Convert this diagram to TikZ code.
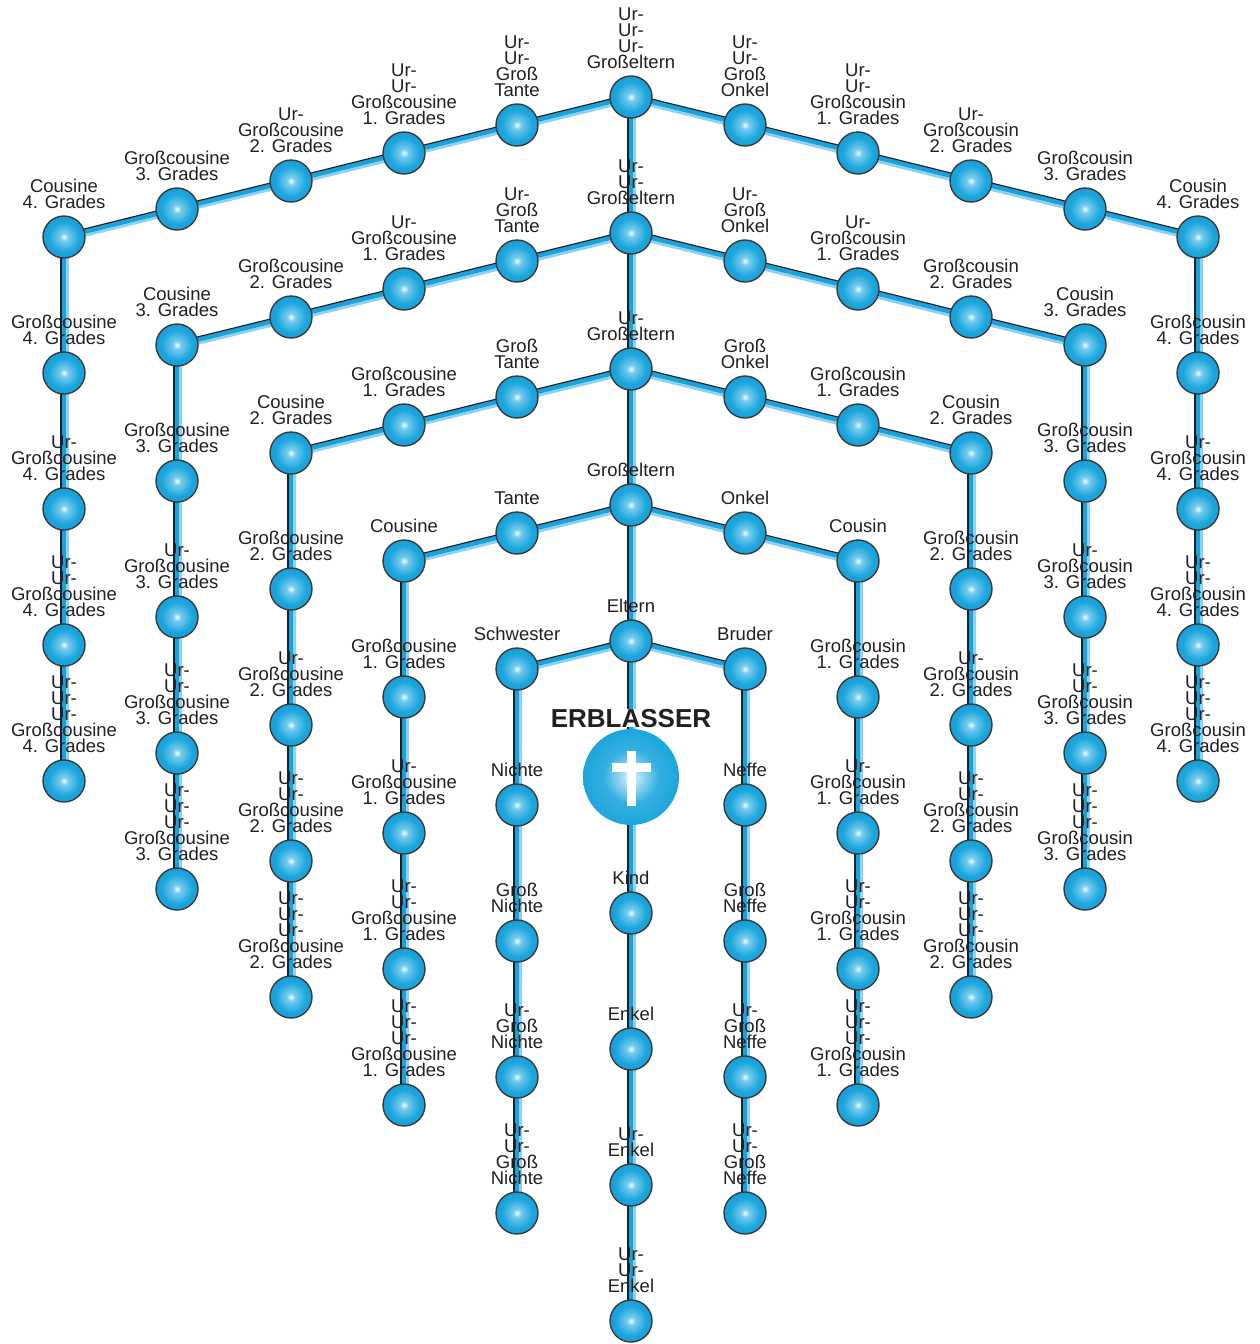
\documentclass[tikz,border=0pt]{standalone}
\usepackage{fontspec}
\setmainfont{Liberation Sans}
\usetikzlibrary{backgrounds}
\definecolor{txt}{HTML}{231F20}
\definecolor{lnblue}{HTML}{1AA3DB}
\definecolor{lnlight}{HTML}{8ED2EF}
\definecolor{lndark}{HTML}{231F20}
\definecolor{sphline}{HTML}{3A3A3C}
\definecolor{sphA}{HTML}{F4FBFE}
\definecolor{sphB}{HTML}{74CBEE}
\definecolor{sphC}{HTML}{1CA6DD}
\definecolor{sphD}{HTML}{0C8CC4}
\definecolor{glA}{HTML}{E0F4FC}
\definecolor{glB}{HTML}{33B0E1}
\definecolor{glC}{HTML}{12A0DA}
\definecolor{glD}{HTML}{9CD8F2}
\pgfdeclareradialshading{sphere}{\pgfpoint{0bp}{0bp}}{color(0bp)=(sphA); color(5bp)=(sphB); color(18bp)=(sphC); color(46bp)=(sphD); color(50bp)=(sphD)}
\pgfdeclareradialshading{glow}{\pgfpoint{0bp}{0bp}}{color(0bp)=(glA); color(14bp)=(glB); color(30bp)=(glC); color(37bp)=(sphC); color(44bp)=(glD); color(50bp)=(white)}
\tikzset{
  sph/.style={circle, minimum size=42pt, inner sep=0pt, draw=sphline, line width=1.4pt, shading=sphere},
  glownode/.style={circle, minimum size=96pt, inner sep=0pt, shading=glow},
  lbl/.style={anchor=south, inner sep=0pt, align=center, text=txt, font=\fontsize{18.5}{16}\selectfont},
  erbl/.style={anchor=base, inner sep=0pt, fill=white, text=txt, font=\fontsize{26}{30}\selectfont\bfseries},
  lnL/.style={draw=lnlight, line width=3pt},
  lnB/.style={draw=lnblue, line width=4.5pt},
  lnD/.style={draw=lndark, line width=1.2pt},
}
\newcommand\pers[4]{\node[sph] (#1) at (#2,#3) {}; \node[lbl] (#1t) at ([yshift=28pt]#1.center) {#4};}
\newcommand\vlink[2]{%
  \draw[lnL] ([xshift=3.5pt]#1.center) -- ([xshift=3.5pt]#2.center);
  \draw[lnB] ([xshift=-0.25pt]#1.center) -- ([xshift=-0.25pt]#2.center);
  \draw[lnD] ([xshift=-3pt]#1.center) -- ([xshift=-3pt]#2.center);}
\newcommand\hlink[2]{%
  \draw[lnL] ([yshift=-3.5pt]#1.center) -- ([yshift=-3.5pt]#2.center);
  \draw[lnB] ([yshift=0.25pt]#1.center) -- ([yshift=0.25pt]#2.center);
  \draw[lnD] ([yshift=3pt]#1.center) -- ([yshift=3pt]#2.center);}
\begin{document}
\begin{tikzpicture}[x=1pt,y=-1pt]
\useasboundingbox (0,0) rectangle (1259,1344);
% centre column
\pers{gg3}{631}{97}{Ur-\\Ur-\\Ur-\\Großeltern}
\pers{gg2}{631}{233}{Ur-\\Ur-\\Großeltern}
\pers{gg1}{631}{369}{Ur-\\Großeltern}
\pers{gp}{631}{505}{Großeltern}
\pers{par}{631}{641}{Eltern}
\node[glownode] (erb) at (631,777) {};
\node[erbl] (erbt) at (631,727) {ERBLASSER};
\fill[white] ([shift={(-4.2,-26)}]erb.center) rectangle ([shift={(4.6,29)}]erb.center);
\fill[white] ([shift={(-19.5,-14.5)}]erb.center) rectangle ([shift={(20,-5.5)}]erb.center);
\pers{kid}{631}{913}{Kind}
\pers{enk}{631}{1049}{Enkel}
\pers{uenk}{631}{1185}{Ur-\\Enkel}
\pers{uuenk}{631}{1321}{Ur-\\Ur-\\Enkel}
% left row 0
\pers{L01}{517}{125}{Ur-\\Ur-\\Groß\\Tante}
\pers{L02}{404}{153}{Ur-\\Ur-\\Großcousine\\1. Grades}
\pers{L03}{291}{181}{Ur-\\Großcousine\\2. Grades}
\pers{L04}{177}{209}{Großcousine\\3. Grades}
\pers{L05}{64}{237}{Cousine\\4. Grades}
\pers{L06}{64}{373}{Großcousine\\4. Grades}
\pers{L07}{64}{509}{Ur-\\Großcousine\\4. Grades}
\pers{L08}{64}{645}{Ur-\\Ur-\\Großcousine\\4. Grades}
\pers{L09}{64}{781}{Ur-\\Ur-\\Ur-\\Großcousine\\4. Grades}
% left row 1
\pers{L11}{517}{261}{Ur-\\Groß\\Tante}
\pers{L12}{404}{289}{Ur-\\Großcousine\\1. Grades}
\pers{L13}{291}{317}{Großcousine\\2. Grades}
\pers{L14}{177}{345}{Cousine\\3. Grades}
\pers{L15}{177}{481}{Großcousine\\3. Grades}
\pers{L16}{177}{617}{Ur-\\Großcousine\\3. Grades}
\pers{L17}{177}{753}{Ur-\\Ur-\\Großcousine\\3. Grades}
\pers{L18}{177}{889}{Ur-\\Ur-\\Ur-\\Großcousine\\3. Grades}
% left row 2
\pers{L21}{517}{397}{Groß\\Tante}
\pers{L22}{404}{425}{Großcousine\\1. Grades}
\pers{L23}{291}{453}{Cousine\\2. Grades}
\pers{L24}{291}{589}{Großcousine\\2. Grades}
\pers{L25}{291}{725}{Ur-\\Großcousine\\2. Grades}
\pers{L26}{291}{861}{Ur-\\Ur-\\Großcousine\\2. Grades}
\pers{L27}{291}{997}{Ur-\\Ur-\\Ur-\\Großcousine\\2. Grades}
% left row 3
\pers{L31}{517}{533}{Tante}
\pers{L32}{404}{561}{Cousine}
\pers{L33}{404}{697}{Großcousine\\1. Grades}
\pers{L34}{404}{833}{Ur-\\Großcousine\\1. Grades}
\pers{L35}{404}{969}{Ur-\\Ur-\\Großcousine\\1. Grades}
\pers{L36}{404}{1105}{Ur-\\Ur-\\Ur-\\Großcousine\\1. Grades}
% left row 4
\pers{L41}{517}{669}{Schwester}
\pers{L42}{517}{805}{Nichte}
\pers{L43}{517}{941}{Groß\\Nichte}
\pers{L44}{517}{1077}{Ur-\\Groß\\Nichte}
\pers{L45}{517}{1213}{Ur-\\Ur-\\Groß\\Nichte}
% right row 0
\pers{R01}{745}{125}{Ur-\\Ur-\\Groß\\Onkel}
\pers{R02}{858}{153}{Ur-\\Ur-\\Großcousin\\1. Grades}
\pers{R03}{971}{181}{Ur-\\Großcousin\\2. Grades}
\pers{R04}{1085}{209}{Großcousin\\3. Grades}
\pers{R05}{1198}{237}{Cousin\\4. Grades}
\pers{R06}{1198}{373}{Großcousin\\4. Grades}
\pers{R07}{1198}{509}{Ur-\\Großcousin\\4. Grades}
\pers{R08}{1198}{645}{Ur-\\Ur-\\Großcousin\\4. Grades}
\pers{R09}{1198}{781}{Ur-\\Ur-\\Ur-\\Großcousin\\4. Grades}
% right row 1
\pers{R11}{745}{261}{Ur-\\Groß\\Onkel}
\pers{R12}{858}{289}{Ur-\\Großcousin\\1. Grades}
\pers{R13}{971}{317}{Großcousin\\2. Grades}
\pers{R14}{1085}{345}{Cousin\\3. Grades}
\pers{R15}{1085}{481}{Großcousin\\3. Grades}
\pers{R16}{1085}{617}{Ur-\\Großcousin\\3. Grades}
\pers{R17}{1085}{753}{Ur-\\Ur-\\Großcousin\\3. Grades}
\pers{R18}{1085}{889}{Ur-\\Ur-\\Ur-\\Großcousin\\3. Grades}
% right row 2
\pers{R21}{745}{397}{Groß\\Onkel}
\pers{R22}{858}{425}{Großcousin\\1. Grades}
\pers{R23}{971}{453}{Cousin\\2. Grades}
\pers{R24}{971}{589}{Großcousin\\2. Grades}
\pers{R25}{971}{725}{Ur-\\Großcousin\\2. Grades}
\pers{R26}{971}{861}{Ur-\\Ur-\\Großcousin\\2. Grades}
\pers{R27}{971}{997}{Ur-\\Ur-\\Ur-\\Großcousin\\2. Grades}
% right row 3
\pers{R31}{745}{533}{Onkel}
\pers{R32}{858}{561}{Cousin}
\pers{R33}{858}{697}{Großcousin\\1. Grades}
\pers{R34}{858}{833}{Ur-\\Großcousin\\1. Grades}
\pers{R35}{858}{969}{Ur-\\Ur-\\Großcousin\\1. Grades}
\pers{R36}{858}{1105}{Ur-\\Ur-\\Ur-\\Großcousin\\1. Grades}
% right row 4
\pers{R41}{745}{669}{Bruder}
\pers{R42}{745}{805}{Neffe}
\pers{R43}{745}{941}{Groß\\Neffe}
\pers{R44}{745}{1077}{Ur-\\Groß\\Neffe}
\pers{R45}{745}{1213}{Ur-\\Ur-\\Groß\\Neffe}
% connectors
\begin{pgfonlayer}{background}
\vlink{gg3}{gg2}\vlink{gg2}{gg1}\vlink{gg1}{gp}\vlink{gp}{par}\vlink{par}{erb}
\vlink{erb}{kid}\vlink{kid}{enk}\vlink{enk}{uenk}\vlink{uenk}{uuenk}
\hlink{gg3}{L01}\hlink{L01}{L02}\hlink{L02}{L03}\hlink{L03}{L04}\hlink{L04}{L05}
\vlink{L05}{L06}\vlink{L06}{L07}\vlink{L07}{L08}\vlink{L08}{L09}
\hlink{gg2}{L11}\hlink{L11}{L12}\hlink{L12}{L13}\hlink{L13}{L14}
\vlink{L14}{L15}\vlink{L15}{L16}\vlink{L16}{L17}\vlink{L17}{L18}
\hlink{gg1}{L21}\hlink{L21}{L22}\hlink{L22}{L23}
\vlink{L23}{L24}\vlink{L24}{L25}\vlink{L25}{L26}\vlink{L26}{L27}
\hlink{gp}{L31}\hlink{L31}{L32}
\vlink{L32}{L33}\vlink{L33}{L34}\vlink{L34}{L35}\vlink{L35}{L36}
\hlink{par}{L41}
\vlink{L41}{L42}\vlink{L42}{L43}\vlink{L43}{L44}\vlink{L44}{L45}
\hlink{gg3}{R01}\hlink{R01}{R02}\hlink{R02}{R03}\hlink{R03}{R04}\hlink{R04}{R05}
\vlink{R05}{R06}\vlink{R06}{R07}\vlink{R07}{R08}\vlink{R08}{R09}
\hlink{gg2}{R11}\hlink{R11}{R12}\hlink{R12}{R13}\hlink{R13}{R14}
\vlink{R14}{R15}\vlink{R15}{R16}\vlink{R16}{R17}\vlink{R17}{R18}
\hlink{gg1}{R21}\hlink{R21}{R22}\hlink{R22}{R23}
\vlink{R23}{R24}\vlink{R24}{R25}\vlink{R25}{R26}\vlink{R26}{R27}
\hlink{gp}{R31}\hlink{R31}{R32}
\vlink{R32}{R33}\vlink{R33}{R34}\vlink{R34}{R35}\vlink{R35}{R36}
\hlink{par}{R41}
\vlink{R41}{R42}\vlink{R42}{R43}\vlink{R43}{R44}\vlink{R44}{R45}
\end{pgfonlayer}
\end{tikzpicture}
\end{document}
